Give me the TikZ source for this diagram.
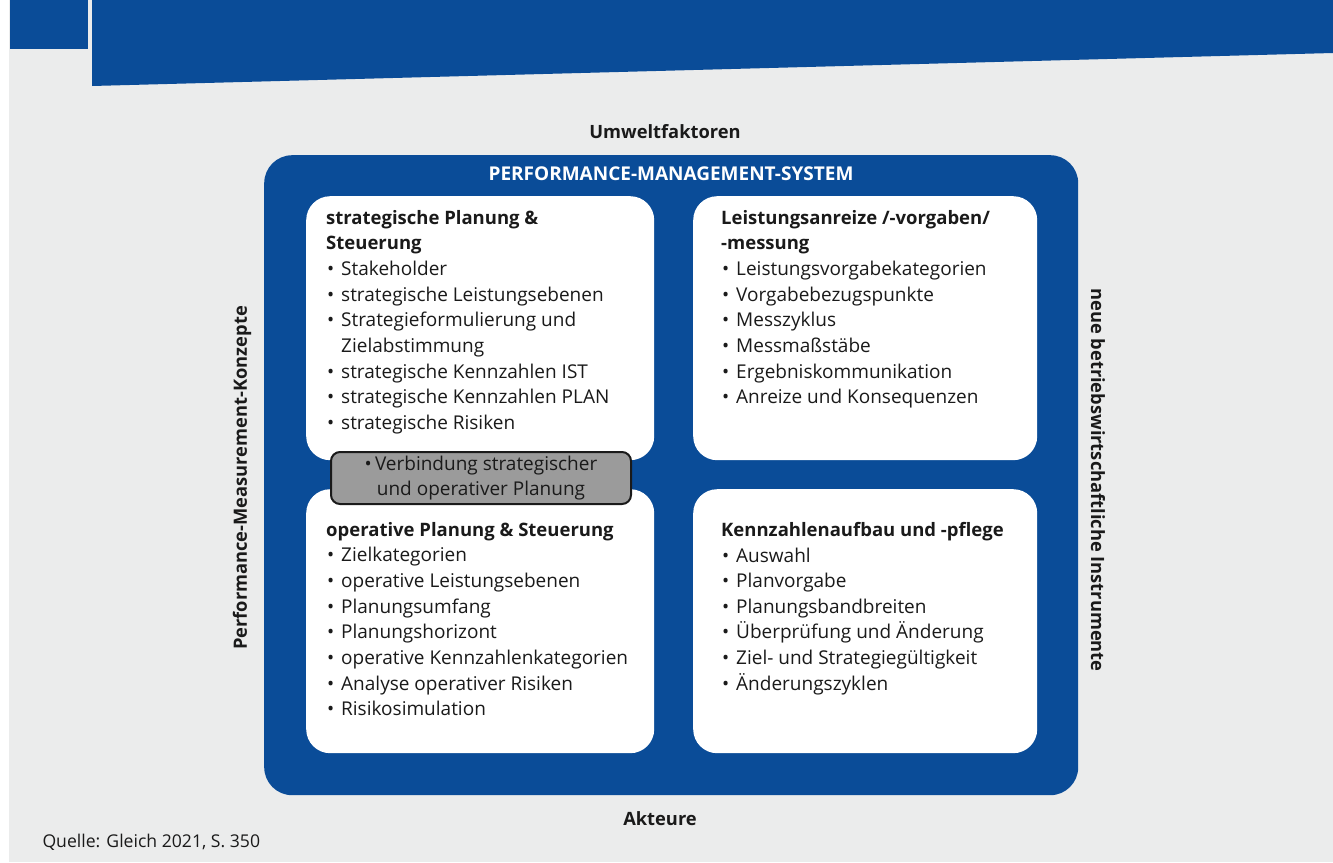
\documentclass[tikz,border=0pt]{standalone}
\usepackage{fontspec}
\setmainfont{Open Sans}
\definecolor{pmblue}{HTML}{0A4C98}
\definecolor{pagegrey}{HTML}{EBECEC}
\definecolor{linkgrey}{HTML}{9B9B9B}
\definecolor{ink}{HTML}{1A1A1A}
% bullet item, continuation line with hanging indent, panel heading
\newcommand{\itm}[1]{\makebox[15pt][l]{\hspace{1pt}\textbullet}#1}
\newcommand{\cnt}[1]{\hspace*{15pt}#1}
\newcommand{\hd}[1]{{\fontsize{18.5}{25.65}\selectfont\bfseries #1}}
\begin{document}
\begin{tikzpicture}[x=1pt,y=-1pt,
  panel/.style={fill=white, rounded corners=24pt, anchor=north west,
    minimum height=264pt, inner sep=0pt},
  panetext/.style={anchor=north west, align=left, inner sep=0pt, text=ink,
    font=\fontsize{19}{25.65}\selectfont},
  sidelabel/.style={text=ink, font=\fontsize{18.3}{22}\selectfont\bfseries}
]
% page background and header band
\fill[white] (0,0) rectangle (1333,862);
\fill[pagegrey] (9,0) rectangle (1333,862);
\fill[pmblue] (10,0) rectangle (88,49);
\fill[pmblue] (92,0) -- (1333,0) -- (1333,53) -- (92,86) -- cycle;
\useasboundingbox (0,0) rectangle (1333,862);

% outer system frame
\node[fill=pmblue, rounded corners=28pt, anchor=north west, inner sep=0pt,
  minimum width=814pt, minimum height=640pt] (pms) at (264,155) {};
\node[text=white, font=\fontsize{19}{20}\selectfont\bfseries] (pmstitle) at (671,174)
  {PERFORMANCE-MANAGEMENT-SYSTEM};

% four panels
\node[panel, minimum width=348pt] (strat) at (306,196) {};
\node[panel, minimum width=344pt] (anreiz) at (693,196) {};
\node[panel, minimum width=348pt] (oper) at (306,489) {};
\node[panel, minimum width=344pt] (kenn) at (693,489) {};

\node[panetext] (strattxt) at (326,210) {%
  \hd{strategische Planung \&}\\
  \hd{Steuerung}\\
  \itm{Stakeholder}\\
  \itm{strategische Leistungsebenen}\\
  \itm{Strategieformulierung und}\\
  \cnt{Zielabstimmung}\\
  \itm{strategische Kennzahlen IST}\\
  \itm{strategische Kennzahlen PLAN}\\
  \itm{strategische Risiken}};

\node[panetext] (anreiztxt) at (721,210) {%
  \hd{Leistungsanreize /-vorgaben/}\\
  \hd{-messung}\\
  \itm{Leistungsvorgabekategorien}\\
  \itm{Vorgabebezugspunkte}\\
  \itm{Messzyklus}\\
  \itm{Messmaßstäbe}\\
  \itm{Ergebniskommunikation}\\
  \itm{Anreize und Konsequenzen}};

\node[panetext] (opertxt) at (326,522) {%
  \hd{operative Planung \& Steuerung}\\
  \itm{Zielkategorien}\\
  \itm{operative Leistungsebenen}\\
  \itm{Planungsumfang}\\
  \itm{Planungshorizont}\\
  \itm{operative Kennzahlenkategorien}\\
  \itm{Analyse operativer Risiken}\\
  \itm{Risikosimulation}};

\node[panetext] (kenntxt) at (721,522) {%
  \hd{Kennzahlenaufbau und -pflege}\\
  \itm{Auswahl}\\
  \itm{Planvorgabe}\\
  \itm{Planungsbandbreiten}\\
  \itm{Überprüfung und Änderung}\\
  \itm{Ziel- und Strategiegültigkeit}\\
  \itm{Änderungszyklen}};

% link between strategic and operative planning
\node[fill=linkgrey, draw=ink, line width=2pt, rounded corners=9pt,
  minimum width=300pt, minimum height=52pt, inner sep=0pt, align=center,
  text=ink, font=\fontsize{19}{25.65}\selectfont] (link) at (481,478)
  {\textbullet\,Verbindung strategischer\\und operativer Planung};

% surrounding factors
\node[sidelabel] (umwelt) at (665,132) {Umweltfaktoren};
\node[sidelabel] (akteure) at (660,819) {Akteure};
\node[sidelabel, rotate=90] (pmk) at (242,478) {Performance-Measurement-Konzepte};
\node[sidelabel, rotate=-90] (bwi) at (1098,480) {neue betriebswirtschaftliche Instrumente};

\node[anchor=west, text=ink, font=\fontsize{17.6}{20}\selectfont] (quelle) at (39,842)
  {Quelle: Gleich 2021, S. 350};
\end{tikzpicture}
\end{document}
